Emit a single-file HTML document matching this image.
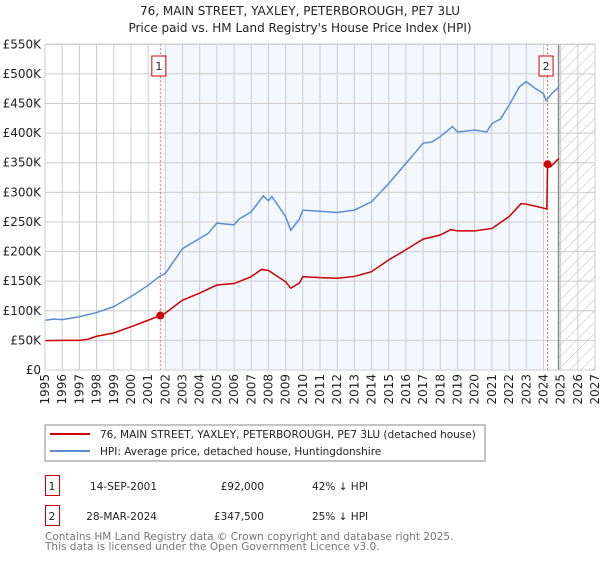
<!DOCTYPE html>
<html><head><meta charset="utf-8"><style>
body{margin:0;background:#fff;width:600px;height:560px;overflow:hidden;font-family:"DejaVu Sans","Liberation Sans",sans-serif}
svg text{font-family:"DejaVu Sans","Liberation Sans",sans-serif}
</style></head><body>
<svg id="c" width="600" height="560" xmlns="http://www.w3.org/2000/svg">
<defs><pattern id="hatch" width="8" height="8" patternUnits="userSpaceOnUse" patternTransform="rotate(45)"><line x1="0" y1="0" x2="0" y2="8" stroke="#bbb" stroke-width="1"/></pattern></defs>
<text x="300" y="15" text-anchor="middle" font-size="12" fill="#222">76, MAIN STREET, YAXLEY, PETERBOROUGH, PE7 3LU</text>
<text x="300" y="32" text-anchor="middle" font-size="12" fill="#222">Price paid vs. HM Land Registry's House Price Index (HPI)</text>
<g id="plot"></g>
<rect x="45" y="425" width="440" height="36" fill="#fff" stroke="#888"/>
<line x1="50" y1="434" x2="90" y2="434" stroke="#cc0000" stroke-width="2"/>
<text x="100" y="438" font-size="10.5" fill="#222">76, MAIN STREET, YAXLEY, PETERBOROUGH, PE7 3LU (detached house)</text>
<line x1="50" y1="451" x2="90" y2="451" stroke="#5b8ed0" stroke-width="2"/>
<text x="100" y="455" font-size="10.5" fill="#222">HPI: Average price, detached house, Huntingdonshire</text>
<rect x="45.5" y="475.5" width="14" height="20" fill="#fff" stroke="#cc0000"/>
<text x="52" y="490" text-anchor="middle" font-size="10.5" fill="#222">1</text>
<text x="157" y="490" text-anchor="end" font-size="10.5" fill="#222">14-SEP-2001</text>
<text x="264" y="490" text-anchor="end" font-size="10.5" fill="#222">£92,000</text>
<text x="312" y="490" font-size="10.5" fill="#222">42% ↓ HPI</text>
<rect x="45.5" y="505.5" width="14" height="20" fill="#fff" stroke="#cc0000"/>
<text x="52" y="520" text-anchor="middle" font-size="10.5" fill="#222">2</text>
<text x="157" y="520" text-anchor="end" font-size="10.5" fill="#222">28-MAR-2024</text>
<text x="264" y="520" text-anchor="end" font-size="10.5" fill="#222">£347,500</text>
<text x="312" y="520" font-size="10.5" fill="#222">25% ↓ HPI</text>
<text x="45" y="540" font-size="10.5" fill="#777">Contains HM Land Registry data © Crown copyright and database right 2025.</text>
<text x="45" y="550" font-size="10.5" fill="#777">This data is licensed under the Open Government Licence v3.0.</text>
</svg>
<script>
const hpiYears=[1995,1995.5,1996,1997,1998,1999,2000,2001,2001.7,2002,2003,2004,2004.5,2005,2006,2006.3,2007,2007.7,2008,2008.2,2009,2009.3,2009.8,2010,2011,2012,2013,2014,2015,2016,2017,2017.5,2018,2018.7,2019,2020,2020.7,2021,2021.5,2022,2022.6,2023,2023.5,2024,2024.15,2024.5,2024.9];
const hpiValues=[84,86,85,90,97,107,124,143,159,163,205,222,231,248,245,255,267,294,286,293,259,236,255,270,268,266,270,284,315,349,383,385,394,411,402,405,402,416,424,447,478,487,476,467,455,467,478];
const paidYears=[1995,1996,1997,1997.5,1998,1999,2000,2001,2001.7,2002,2003,2004,2005,2006,2007,2007.6,2008,2009,2009.3,2009.8,2010,2011,2012,2013,2014,2015,2016,2017,2018,2018.6,2019,2020,2021,2022,2022.7,2023,2023.5,2024.2,2024.24,2024.4,2024.9];
const paidValues=[49.5,50,50,52,57,62.5,73,84,92,96,118,130,143.5,146,157.6,170,168,149,138,147,157.6,156,155,158,166,186,203,221,228,237,235,235,239,259,281,280,277,272,347.5,343,357];
const saleYears=[2001.71,2024.24];
const salePrices=[92,347.5];
const yTicks=[0,50,100,150,200,250,300,350,400,450,500,550];
const yTickLabels=["£0","£50K","£100K","£150K","£200K","£250K","£300K","£350K","£400K","£450K","£500K","£550K"];
const xTicks=[1995,1996,1997,1998,1999,2000,2001,2002,2003,2004,2005,2006,2007,2008,2009,2010,2011,2012,2013,2014,2015,2016,2017,2018,2019,2020,2021,2022,2023,2024,2025,2026,2027];

const L=45,R=595,T=44.3,B=370;
const x=y=>L+(y-1995)/(2027-1995)*(R-L);
const yv=v=>B-v/550*(B-T);
const NS="http://www.w3.org/2000/svg";
const g=document.getElementById('plot');
function mk(tag,attrs){const e=document.createElementNS(NS,tag);for(const k in attrs)e.setAttribute(k,attrs[k]);g.appendChild(e);return e;}

let e=mk('rect',{x:x(2002),y:T,width:x(2023.9)-x(2002),height:B-T,fill:'#eef3fd',opacity:0.7});


e=mk('rect',{x:x(2024.88),y:T,width:R-x(2024.88),height:B-T,fill:'url(#hatch)'});


yTicks.forEach((t,i)=>{
  let l=mk('line',{x1:L,x2:R,y1:yv(t),y2:yv(t),stroke:'#ccc','stroke-width':1});
  
  
  let tx=mk('text',{x:L-4,y:yv(t)+4,'text-anchor':'end','font-size':12,fill:'#222'});
  tx.textContent=yTickLabels[i];
  
  
});
xTicks.forEach(t=>{
  let l=mk('line',{x1:x(t),x2:x(t),y1:T,y2:B,stroke:'#ccc','stroke-width':1});
  
  
  let tx=mk('text',{x:0,y:0,'text-anchor':'end','font-size':12,fill:'#222',transform:`translate(${x(t)+4},${B+4}) rotate(-90)`});
  tx.textContent=t;
  
  
});
e=mk('line',{x1:x(2024.88),x2:x(2024.88),y1:T,y2:B,stroke:'#888','stroke-width':1.5});


saleYears.forEach((s,i)=>{
  let l=mk('line',{x1:x(s),x2:x(s),y1:T,y2:B,stroke:'#e06060','stroke-width':1,'stroke-dasharray':'2,2'});
  
  
  let bx=mk('rect',{x:x(s)-8.5,y:56,width:14,height:20,fill:'#fff',stroke:'#cc0000'});
  
  
  let tx=mk('text',{x:x(s)-1.5,y:70,'text-anchor':'middle','font-size':11,fill:'#222'});
  tx.textContent=String(i+1);
  
  
});
e=mk('polyline',{points:hpiYears.map((t,i)=>x(t)+','+yv(hpiValues[i])).join(' '),fill:'none',stroke:'#5b8ed0','stroke-width':1.5});


e=mk('polyline',{points:paidYears.map((t,i)=>x(t)+','+yv(paidValues[i])).join(' '),fill:'none',stroke:'#cc0000','stroke-width':1.5});


saleYears.forEach((s,i)=>{
  let c=mk('circle',{cx:x(s),cy:yv(salePrices[i]),r:4,fill:'#cc0000'});
  
  
});
e=mk('rect',{x:L,y:T,width:R-L,height:B-T,fill:'none',stroke:'#ccc'});


</script>
</body></html>
